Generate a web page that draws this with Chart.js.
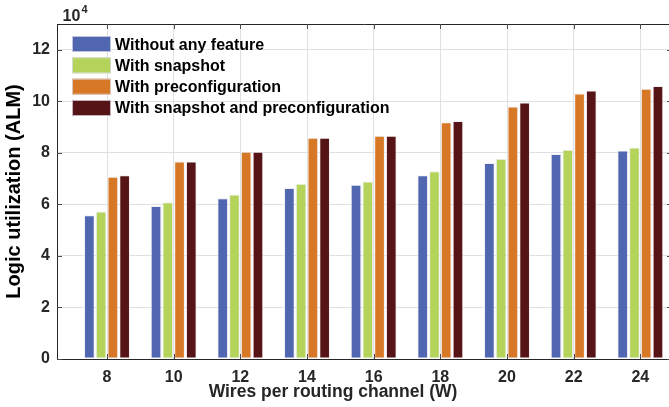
<!DOCTYPE html>
<html><head><meta charset="utf-8">
<script src="https://cdn.jsdelivr.net/npm/chart.js@4/dist/chart.umd.min.js"></script>
<style>
html,body{margin:0;padding:0;background:#fff;overflow:hidden;width:669px;height:407px}
#wrap{position:relative;width:680px;height:407px}
canvas{display:block}
</style></head>
<body><div id="wrap"><canvas id="c" width="680" height="407"></canvas></div>
<script>
// Wires per routing channel (W)
const categories = [8, 10, 12, 14, 16, 18, 20, 22, 24];
// Logic utilization (ALM)
const withoutFeature = [55800, 59400, 62400, 66400, 67600, 71300, 76100, 79600, 80900];
const withSnapshot   = [57200, 60800, 63800, 68000, 68900, 72900, 77700, 81200, 82100];
const withPreconfig  = [70700, 76600, 80400, 85900, 86600, 91900, 98000, 103000, 104900];
const withBoth       = [71300, 76600, 80400, 85900, 86600, 92400, 99500, 104200, 105900];
const yTickValues = [0, 20000, 40000, 60000, 80000, 100000, 120000];
const seriesLabels = ['Without any feature', 'With snapshot', 'With preconfiguration', 'With snapshot and preconfiguration'];
const seriesColors = ['#5066B1', '#B3D35B', '#D77826', '#561416'];
const seriesValues = [withoutFeature, withSnapshot, withPreconfig, withBoth];

const FONT = "'Liberation Sans', Arial, sans-serif";
const INK = '#262626';

const datasets = seriesValues.map((vals, i) => ({
  label: seriesLabels[i],
  data: categories.map((c, j) => ({x: c, y: vals[j]})),
  backgroundColor: seriesColors[i],
  borderColor: 'rgba(235,235,240,0.75)',
  borderWidth: 1,
  borderSkipped: false,
  categoryPercentage: 0.705,
  barPercentage: 0.91
}));

const decor = {
  id: 'decor',
  afterDatasetsDraw(chart) {
    const ctx = chart.ctx, a = chart.chartArea;
    const xs = chart.scales.x, ys = chart.scales.y;
    ctx.save();
    ctx.strokeStyle = INK; ctx.lineWidth = 1;
    ctx.beginPath();
    ctx.moveTo(a.left, a.top + 0.5); ctx.lineTo(a.right, a.top + 0.5);
    ctx.moveTo(a.right - 0.5, a.top); ctx.lineTo(a.right - 0.5, a.bottom);
    ctx.stroke();
    ctx.strokeStyle = '#4a4a4a';
    ctx.beginPath();
    categories.forEach(v => {
      const px = Math.round(xs.getPixelForValue(v)) + 0.5;
      ctx.moveTo(px, a.bottom); ctx.lineTo(px, a.bottom - 5);
      ctx.moveTo(px, a.top); ctx.lineTo(px, a.top + 5);
    });
    yTickValues.forEach(v => {
      const py = Math.round(ys.getPixelForValue(v)) + 0.5;
      ctx.moveTo(a.left, py); ctx.lineTo(a.left + 5, py);
      ctx.moveTo(a.right, py); ctx.lineTo(a.right - 5, py);
    });
    ctx.stroke();
    ctx.font = 'bold 16px ' + FONT;
    ctx.textAlign = 'left'; ctx.textBaseline = 'alphabetic';
    chart.data.datasets.forEach((ds, i) => {
      const cy = 44 + i * 21.33;
      ctx.fillStyle = ds.backgroundColor;
      ctx.fillRect(72, cy - 8, 39, 16);
      ctx.strokeStyle = 'rgba(220,220,230,0.8)';
      ctx.strokeRect(72.5, cy - 7.5, 38, 15);
      ctx.fillStyle = '#000';
      ctx.fillText(ds.label, 115, cy + 5.5);
    });
    ctx.fillStyle = INK;
    ctx.font = 'bold 16px ' + FONT;
    ctx.fillText('10', 62.5, 21);
    ctx.font = 'bold 11px ' + FONT;
    ctx.fillText('4', 81.5, 12.5);
    ctx.font = 'bold 17.5px ' + FONT;
    ctx.textAlign = 'center';
    ctx.fillText('Wires per routing channel (W)', 333, 397);
    ctx.restore();
  }
};

new Chart(document.getElementById('c'), {
  type: 'bar',
  data: { datasets },
  options: {
    responsive: false,
    animation: false,
    devicePixelRatio: 1,
    layout: { padding: { top: 24, right: 8, left: 0, bottom: 0 } },
    plugins: { legend: { display: false }, tooltip: { enabled: false } },
    scales: {
      x: {
        type: 'linear',
        offset: false,
        min: 6.5, max: 24.95,
        afterBuildTicks: s => { s.ticks = categories.map(v => ({ value: v })); },
        afterFit: s => { s.height = 48; },
        grid: { color: '#e0e0e0', drawTicks: false, offset: false },
        border: { display: true, color: INK, width: 1 },
        ticks: { font: { family: FONT, size: 16, weight: 'bold' }, color: INK, padding: 9, maxRotation: 0 }
      },
      y: {
        min: 0, max: 130000,
        afterBuildTicks: s => { s.ticks = yTickValues.map(v => ({ value: v })); },
        afterFit: s => { s.width = 57; },
        grid: { color: '#e0e0e0', drawTicks: false },
        border: { display: true, color: INK, width: 1 },
        ticks: { font: { family: FONT, size: 16, weight: 'bold' }, color: INK, padding: 7,
                 callback: v => String(v / 10000) },
        title: { display: true, text: 'Logic utilization (ALM)', color: '#000',
                 font: { family: FONT, size: 20, weight: 'bold' }, padding: { top: 2, bottom: 0 } }
      }
    }
  },
  plugins: [decor]
});
</script>
</body></html>
